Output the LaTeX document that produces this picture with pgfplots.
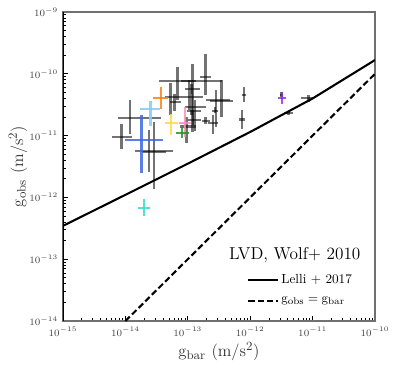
\documentclass[border=0pt]{standalone}
\usepackage{pgfplots}
\usepackage{pgfplotstable}
\pgfplotsset{compat=1.18}
\usetikzlibrary{calc}

\definecolor{cOrange}{HTML}{FF7F0E}
\definecolor{cSky}{HTML}{87CEFA}
\definecolor{cBlue}{HTML}{4169E1}
\definecolor{cGold}{HTML}{FFD94A}
\definecolor{cPink}{HTML}{FF8CB8}
\definecolor{cGreen}{HTML}{1E9A1E}
\definecolor{cTurq}{HTML}{40E0D0}
\definecolor{cViolet}{HTML}{8A2BE2}
\definecolor{spine}{HTML}{707070}

% crosses: centre, then x range and y range (m/s^2)
\pgfplotstableread{
x y xlo xhi ylo yhi
8.63e-15 9.61e-12 6.19e-15 1.30e-14 5.99e-12 1.54e-11
1.17e-14 1.90e-11 7.63e-15 3.78e-14 1.06e-11 3.77e-11
2.37e-14 5.70e-12 1.45e-14 5.82e-14 2.61e-12 1.23e-11
2.85e-14 5.50e-12 1.87e-14 4.44e-14 1.37e-12 1.68e-11
6.83e-14 7.64e-11 3.47e-14 1.377e-13 3.77e-11 1.30e-10
1.188e-13 7.64e-11 7.92e-14 3.598e-13 4.71e-11 1.44e-10
1.92e-13 8.77e-11 1.596e-13 2.397e-13 4.54e-11 2.07e-10
5.27e-14 4.16e-11 4.28e-14 7.92e-14 2.15e-11 7.19e-11
6.11e-14 3.50e-11 5.14e-14 7.92e-14 2.53e-11 4.71e-11
1.05e-13 5.61e-11 8.95e-14 1.557e-13 2.60e-11 7.94e-11
1.145e-13 4.16e-11 7.92e-14 1.762e-13 2.15e-11 6.84e-11
1.218e-13 2.87e-11 8.95e-14 1.993e-13 1.48e-11 4.71e-11
1.311e-13 2.53e-11 9.76e-14 1.656e-13 1.20e-11 3.77e-11
9.52e-14 1.40e-11 7.44e-14 1.377e-13 7.50e-12 1.98e-11
1.188e-13 1.79e-11 1.012e-13 1.656e-13 1.16e-11 2.60e-11
2.813e-13 3.77e-11 1.945e-13 4.718e-13 1.40e-11 5.47e-11
3.468e-13 3.67e-11 2.31e-13 5.21e-13 2.02e-11 7.94e-11
1.92e-13 1.74e-11 1.698e-13 2.254e-13 1.54e-11 1.98e-11
2.549e-13 1.62e-11 2.12e-13 3.066e-13 1.06e-11 2.15e-11
2.711e-13 2.53e-11 2.457e-13 3.066e-13 2.35e-11 2.94e-11
8.01e-13 4.60e-11 7.53e-13 8.52e-13 3.54e-11 6.04e-11
7.35e-13 1.83e-11 6.66e-13 8.31e-13 1.26e-11 2.60e-11
3.182e-12 4.60e-11 2.991e-12 3.383e-12 4.16e-11 5.08e-11
4.121e-12 2.32e-11 3.468e-12 4.895e-12 2.18e-11 2.47e-11
8.626e-12 4.01e-11 6.498e-12 1.00e-11 3.54e-11 4.48e-11
}\graydata

\pgfplotsset{
  crossbar/.style={only marks, mark=none, mark size=0pt,
    mark options={draw=none, fill=none}, forget plot,
    error bars/.cd, x dir=both, x explicit, y dir=both, y explicit,
    error mark=none, error bar style={line width=1.6pt, #1}},
  /pgfplots/table/crosstab/.style={x=x, y=y,
    x error plus expr=\thisrow{xhi}-\thisrow{x},
    x error minus expr=\thisrow{x}-\thisrow{xlo},
    y error plus expr=\thisrow{yhi}-\thisrow{y},
    y error minus expr=\thisrow{y}-\thisrow{ylo}},
}

\begin{document}
\begin{tikzpicture}
\begin{axis}[
    name=ax,
    scale only axis,
    width=224.64pt, height=222.48pt,
    xmode=log, ymode=log,
    xmin=1e-15, xmax=1e-10,
    ymin=1e-14, ymax=1e-9,
    xtick={1e-15,1e-14,1e-13,1e-12,1e-11,1e-10},
    ytick={1e-14,1e-13,1e-12,1e-11,1e-10,1e-9},
    xtick pos=lower, ytick pos=left,
    tick align=inside,
    major tick length=3.6pt, minor tick length=2.2pt,
    tick style={black, line width=0.6pt},
    axis line style={spine, line width=0.9pt},
    tick label style={font=\fontsize{7.5}{8}\selectfont, black!75},
    xticklabel style={yshift=-1pt},
    xlabel={$\mathrm{g_{bar}}\ (\mathrm{m/s^2})$},
    ylabel={$\mathrm{g_{obs}}\ (\mathrm{m/s^2})$},
    label style={font=\fontsize{12.5}{14}\selectfont, black!80},
    xlabel style={at={(axis description cs:0.5,-0.10)}, anchor=center},
    ylabel style={at={(axis description cs:-0.144,0.5)}, anchor=center},
    legend style={at={(axis description cs:0.59,0.16)}, anchor=north west,
        draw=none, fill=none, font=\fontsize{9.5}{11}\selectfont,
        row sep=4pt, inner sep=0pt},
    legend cell align=left,
    legend image code/.code={\draw[#1] (0pt,0pt) -- (21pt,0pt);},
]

% gray objects first
\addplot[crossbar={black, opacity=0.55}] table[crosstab] {\graydata};

% highlighted objects
\addplot[crossbar={cOrange, opacity=0.85}] table[crosstab] {
x y xlo xhi ylo yhi
3.69e-14 4.11e-11 2.78e-14 4.84e-14 2.66e-11 6.19e-11
};
\addplot[crossbar={cSky, opacity=0.9}] table[crosstab] {
x y xlo xhi ylo yhi
2.52e-14 2.69e-11 1.70e-14 3.64e-14 1.43e-11 3.63e-11
};
\addplot[crossbar={cBlue, opacity=0.85}] table[crosstab] {
x y xlo xhi ylo yhi
1.81e-14 8.49e-12 9.76e-15 4.02e-14 2.45e-12 2.15e-11
};
\addplot[crossbar={cGold, opacity=0.85}] table[crosstab] {
x y xlo xhi ylo yhi
5.34e-14 1.58e-11 4.28e-14 7.00e-14 1.02e-11 2.24e-11
};
\addplot[crossbar={cPink, opacity=0.85}] table[crosstab] {
x y xlo xhi ylo yhi
8.95e-14 1.62e-11 7.26e-14 1.145e-13 9.61e-12 2.94e-11
};
\addplot[crossbar={cGreen, opacity=0.85}] table[crosstab] {
x y xlo xhi ylo yhi
8.01e-14 1.09e-11 6.42e-14 1.05e-13 9.03e-12 1.36e-11
};
\addplot[crossbar={cTurq, opacity=0.9}] table[crosstab] {
x y xlo xhi ylo yhi
1.97e-14 6.82e-13 1.60e-14 2.46e-14 5.00e-13 9.42e-13
};
\addplot[crossbar={cViolet, opacity=0.8}] table[crosstab] {
x y xlo xhi ylo yhi
3.22e-12 4.01e-11 2.81e-12 3.74e-12 3.21e-11 5.01e-11
};

% Lelli+ 2017 radial acceleration relation, g_dagger = 1.2e-10
\addplot[black, line width=1.5pt, mark=none] coordinates {
    (1e-15,3.469e-13) (1e-14,1.100e-12) (1e-13,3.514e-12)
    (1e-12,1.146e-11) (1e-11,3.989e-11) (1e-10,1.670e-10)};
\addlegendentry{Lelli + 2017}

\addplot[black, line width=1.5pt, dash pattern=on 4.5pt off 2.2pt, mark=none]
    coordinates {(1e-14,1e-14) (1e-10,1e-10)};
\addlegendentry{$\mathrm{g_{obs}} = \mathrm{g_{bar}}$}

\draw[black, line width=0.9pt] (rel axis cs:0,0) -- (rel axis cs:0,1);
\node[font=\fontsize{12.4}{14}\selectfont, anchor=center]
    at (rel axis cs:0.743,0.214) {LVD, Wolf+ 2010};
\end{axis}
\pgfresetboundingbox
\path[use as bounding box] ($(ax.south west)+(-45.36pt,-33.84pt)$)
    rectangle ($(ax.north east)+(15.84pt,8.64pt)$);
\end{tikzpicture}
\end{document}
